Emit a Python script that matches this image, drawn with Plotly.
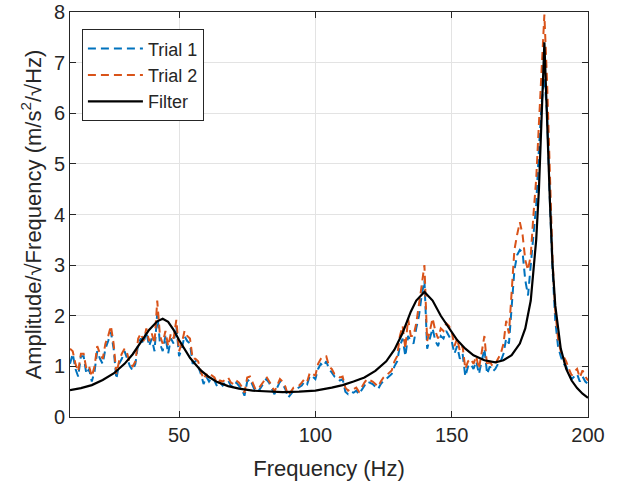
import plotly.graph_objects as go

# Frequencies for trial data (1 Hz steps, 10..200)
freq = list(range(10, 201))

trial1 = [
    1.05, 1.25, 0.95, 0.80, 1.20, 1.20, 0.85, 0.95, 0.70, 0.90,  # 10-19
    1.30, 1.15, 1.05, 1.35, 1.50, 1.68, 1.35, 0.75, 1.05, 1.15,  # 20-29
    1.30, 1.15, 1.00, 0.92, 1.05, 1.45, 1.55, 1.45, 1.70, 1.40,  # 30-39
    1.55, 1.30, 2.05, 1.45, 1.30, 1.60, 1.25, 1.55, 1.45, 1.80,  # 40-49
    1.20, 1.35, 1.60, 1.50, 1.45, 1.05, 1.10, 1.00, 0.85, 0.65,  # 50-59
    0.80, 0.70, 0.78, 0.72, 0.60, 0.68, 0.62, 0.70, 0.72, 0.62,  # 60-69
    0.58, 0.68, 0.62, 0.55, 0.42, 0.70, 0.75, 0.62, 0.50, 0.50,  # 70-79
    0.58, 0.65, 0.75, 0.68, 0.55, 0.45, 0.58, 0.70, 0.65, 0.55,  # 80-89
    0.38, 0.45, 0.52, 0.55, 0.58, 0.62, 0.70, 0.65, 0.82, 0.80,  # 90-99
    0.75, 0.95, 1.05, 1.00, 1.10, 0.95, 0.88, 0.80, 0.78, 0.72,  # 100-109
    0.75, 0.50, 0.45, 0.50, 0.48, 0.52, 0.45, 0.55, 0.62, 0.70,  # 110-119
    0.68, 0.65, 0.60, 0.55, 0.65, 0.72, 0.75, 0.80, 0.85, 1.00,  # 120-129
    1.10, 1.40, 1.55, 1.20, 1.60, 1.50, 1.45, 1.75, 2.00, 2.40,  # 130-139
    2.70, 1.35, 1.55, 1.75, 1.50, 1.40, 1.60, 1.55, 1.70, 1.60,  # 140-149
    1.50, 1.25, 1.40, 1.15, 1.25, 0.80, 1.00, 1.05, 0.95, 1.10,  # 150-159
    0.85, 1.10, 1.35, 0.85, 1.00, 0.90, 0.95, 1.05, 1.10, 1.25,  # 160-169
    1.55, 1.45, 2.20, 2.90, 3.20, 3.30, 3.25, 2.70, 2.40, 3.00,  # 170-179
    3.60, 4.20, 5.30, 6.20, 6.70, 6.00, 4.30, 2.90, 1.90, 1.40,  # 180-189
    1.20, 1.05, 1.00, 0.85, 0.75, 0.80, 0.85, 0.70, 0.80, 0.70,  # 190-199
    0.65,                                                        # 200
]

trial2 = [
    1.35, 1.30, 1.05, 0.90, 1.25, 1.25, 0.95, 1.00, 0.80, 1.00,  # 10-19
    1.40, 1.25, 1.15, 1.45, 1.60, 1.80, 1.45, 0.85, 1.10, 1.25,  # 20-29
    1.35, 1.25, 1.05, 1.00, 1.10, 1.55, 1.65, 1.50, 1.75, 1.50,  # 30-39
    1.65, 1.45, 2.30, 1.60, 1.45, 1.70, 1.40, 1.65, 1.55, 1.92,  # 40-49
    1.30, 1.45, 1.70, 1.60, 1.55, 1.15, 1.15, 1.10, 0.90, 0.75,  # 50-59
    0.85, 0.75, 0.82, 0.78, 0.65, 0.72, 0.70, 0.75, 0.78, 0.68,  # 60-69
    0.65, 0.72, 0.68, 0.60, 0.48, 0.78, 0.80, 0.68, 0.55, 0.55,  # 70-79
    0.62, 0.70, 0.80, 0.72, 0.62, 0.50, 0.62, 0.75, 0.70, 0.60,  # 80-89
    0.42, 0.50, 0.58, 0.60, 0.62, 0.68, 0.75, 0.70, 0.88, 0.85,  # 90-99
    0.82, 1.05, 1.15, 1.20, 1.20, 1.00, 0.95, 0.85, 0.82, 0.78,  # 100-109
    0.80, 0.58, 0.52, 0.55, 0.55, 0.58, 0.50, 0.60, 0.68, 0.75,  # 110-119
    0.72, 0.70, 0.65, 0.60, 0.70, 0.78, 0.82, 0.88, 0.92, 1.10,  # 120-129
    1.20, 1.60, 1.80, 1.35, 1.95, 1.60, 1.60, 1.85, 2.20, 2.60,  # 130-139
    3.00, 1.50, 1.70, 1.95, 1.70, 1.55, 1.75, 1.70, 1.85, 1.80,  # 140-149
    1.70, 1.40, 1.55, 1.30, 1.40, 0.95, 1.10, 1.15, 1.05, 1.20,  # 150-159
    0.95, 1.25, 1.60, 1.00, 1.10, 1.00, 1.05, 1.15, 1.25, 1.45,  # 160-169
    1.90, 1.65, 2.50, 3.30, 3.60, 3.85, 3.60, 3.10, 2.90, 3.20,  # 170-179
    4.00, 4.70, 5.80, 7.00, 7.95, 6.60, 4.60, 3.10, 2.10, 1.55,  # 180-189
    1.30, 1.20, 1.10, 0.95, 0.82, 0.90, 0.95, 0.78, 0.92, 0.80,  # 190-199
    0.72,                                                        # 200
]

filter_freq = [10, 14, 18, 22, 26, 30, 33, 36, 39, 42, 44, 46, 48, 50, 52, 54,
               56, 58, 61, 64, 68, 72, 77, 82, 88, 94, 100, 106, 110, 114, 118,
               122, 126, 129, 132, 135, 137, 140, 143, 146, 149, 152, 155, 158,
               162, 166, 169, 172, 175, 177, 179, 181, 182, 184, 186, 187, 188,
               190, 192, 194, 196, 198, 200]
filter_amp = [0.53, 0.57, 0.63, 0.73, 0.86, 1.05, 1.24, 1.49, 1.72, 1.89, 1.94,
              1.88, 1.72, 1.52, 1.33, 1.17, 1.04, 0.92, 0.79, 0.69, 0.61, 0.56,
              0.52, 0.50, 0.49, 0.50, 0.52, 0.58, 0.63, 0.70, 0.78, 0.91, 1.10,
              1.33, 1.66, 2.08, 2.30, 2.47, 2.30, 2.00, 1.75, 1.52, 1.35, 1.22,
              1.12, 1.08, 1.12, 1.22, 1.45, 1.75, 2.30, 3.50, 4.50, 7.40, 4.30,
              3.00, 2.20, 1.35, 0.95, 0.72, 0.57, 0.46, 0.38]

x_ticks = [50, 100, 150, 200]
y_ticks = [0, 1, 2, 3, 4, 5, 6, 7, 8]

FONT = "Liberation Sans, Arial, Helvetica, sans-serif"
TXT = "#262626"

fig = go.Figure()
fig.add_trace(go.Scatter(x=freq, y=trial1, mode="lines", name="Trial 1",
                         line=dict(color="#0072BD", width=2, dash="8px,5px")))
fig.add_trace(go.Scatter(x=freq, y=trial2, mode="lines", name="Trial 2",
                         line=dict(color="#D95319", width=2, dash="8px,5px")))
fig.add_trace(go.Scatter(x=filter_freq, y=filter_amp, mode="lines", name="Filter",
                         line=dict(color="#000000", width=2.2)))

axis_common = dict(
    showline=True, linecolor=TXT, linewidth=1, mirror="ticks",
    ticks="inside", ticklen=6, tickcolor=TXT, tickwidth=1,
    showgrid=True, gridcolor="#e3e3e3", gridwidth=1,
    zeroline=False, automargin=False, ticklabeloverflow="allow",
    tickfont=dict(family=FONT, size=20, color=TXT),
)

fig.update_layout(
    width=619, height=487,
    margin=dict(l=70, r=31, t=12, b=70),
    paper_bgcolor="white", plot_bgcolor="white",
    font=dict(family=FONT, color=TXT),
    xaxis=dict(range=[10, 200], tickvals=x_ticks,
               title=dict(text="Frequency (Hz)", font=dict(family=FONT, size=22, color=TXT)),
               **axis_common),
    yaxis=dict(range=[0, 8], tickvals=y_ticks,
               title=dict(text="Amplitude/√Frequency (m/s<sup>2</sup>/√Hz)",
                          font=dict(family=FONT, size=22, color=TXT), standoff=6),
               **axis_common),
    legend=dict(x=0.023, y=0.957, xanchor="left", yanchor="top",
                bgcolor="white", bordercolor=TXT, borderwidth=1,
                font=dict(family=FONT, size=18, color=TXT),
                tracegroupgap=0, itemwidth=55),
    showlegend=True,
)

# remove the page's default body margin so the figure fills the window exactly
fig.write_html("out.html",
               config={"displayModeBar": False},
               post_script="document.body.style.margin='0';document.body.style.overflow='hidden';")
